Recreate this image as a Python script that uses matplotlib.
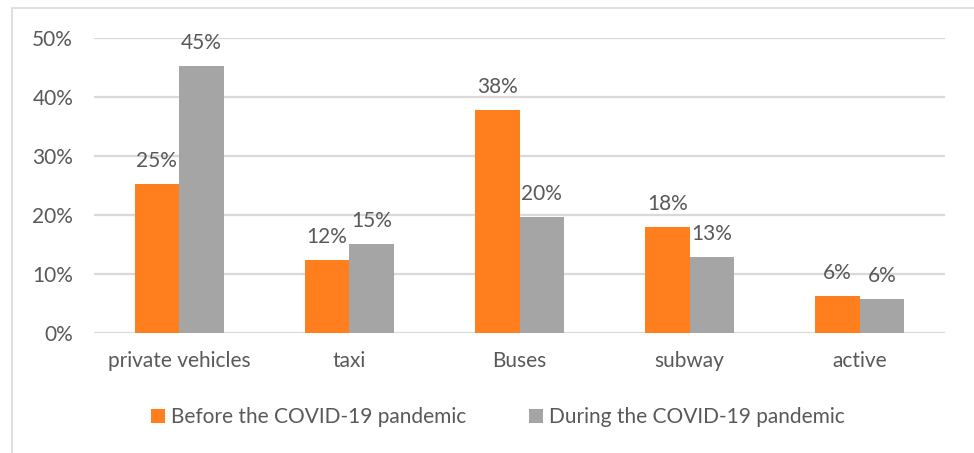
import matplotlib
matplotlib.use("Agg")
import matplotlib.pyplot as plt
from matplotlib.patches import Rectangle
from matplotlib.ticker import PercentFormatter
import numpy as np

plt.rcParams['font.family'] = ['Lato', 'DejaVu Sans']

categories = ["private vehicles", "taxi", "Buses", "subway", "active"]
before = [25.2, 12.3, 37.8, 18.0, 6.3]
during = [45.3, 15.1, 19.7, 12.8, 5.8]
series_names = ["Before the COVID-19 pandemic", "During the COVID-19 pandemic"]
yticks = [0, 10, 20, 30, 40, 50]

orange = "#FF7F1F"
grey = "#A5A5A5"
text_col = "#595959"
grid_col = "#D9D9D9"
fs = 15

W, H = 974, 453
fig = plt.figure(figsize=(W / 100, H / 100), dpi=100)
ax = fig.add_axes([94 / W, 1 - 333 / H, (945 - 94) / W, (333 - 38) / H])

x = np.arange(len(categories))
bw = 0.262
b1 = ax.bar(x - bw / 2, before, bw, color=orange, label=series_names[0], zorder=3)
b2 = ax.bar(x + bw / 2, during, bw, color=grey, label=series_names[1], zorder=3)

for bars, vals in ((b1, before), (b2, during)):
    for rect, v in zip(bars, vals):
        ax.annotate(f"{v:.0f}%", (rect.get_x() + rect.get_width() / 2, v),
                    xytext=(0, 13), textcoords="offset pixels",
                    ha="center", va="bottom", fontsize=fs, color=text_col)

ax.set_xlim(-0.5, len(categories) - 0.5)
ax.set_ylim(0, 50)
ax.set_yticks(yticks)
ax.yaxis.set_major_formatter(PercentFormatter(decimals=0))
ax.set_xticks(x)
ax.set_xticklabels(categories)
ax.tick_params(axis="both", length=0, labelsize=fs, labelcolor=text_col)
ax.tick_params(axis="y", pad=15)
ax.tick_params(axis="x", pad=13)
ax.grid(axis="y", color=grid_col, linewidth=1.6, zorder=0)
for s in ax.spines.values():
    s.set_visible(False)

fig.legend(handles=[b1, b2], loc="center", bbox_to_anchor=(498 / W, 1 - 417 / H),
           ncol=2, frameon=False, fontsize=fs, labelcolor=text_col,
           handlelength=0.67, handleheight=0.67, handletextpad=0.3, columnspacing=3.0)

fig.patches.append(Rectangle((12 / W, -0.1), 1.2, 1.1 - 8 / H, transform=fig.transFigure,
                             fill=False, edgecolor=grid_col, linewidth=1.2))

fig.savefig("out.png", dpi=100)
